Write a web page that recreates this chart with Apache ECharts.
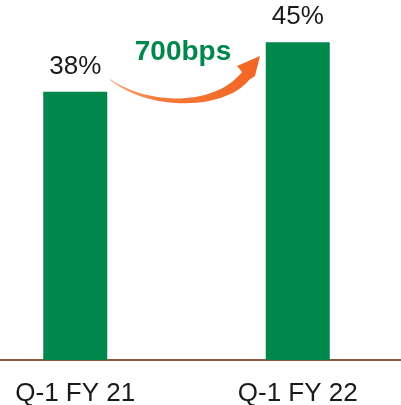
<!DOCTYPE html>
<html>
<head>
<meta charset="utf-8">
<script src="https://cdn.jsdelivr.net/npm/echarts@6/dist/echarts.min.js"></script>
<style>
  html, body { margin: 0; padding: 0; background: #fff; overflow: hidden; }
  /* 画布比窗口宽，左移让轴线贯穿全宽 */
  #chart { width: 445px; height: 405px; margin-left: -36px; }
</style>
</head>
<body>
<div id="chart"></div>
<script>
// 数据
const categories = ['Q-1 FY 21', 'Q-1 FY 22']
const margins = [38, 45]
const changeLabel = '700bps'

const chart = echarts.init(document.getElementById('chart'))

const font = '"Liberation Sans", Arial, sans-serif'

// 三次贝塞尔取点
function bezier(p0, p1, p2, p3, n) {
    const pts = []
    for (let i = 0; i <= n; i++) {
        const t = i / n
        const a = (1 - t) * (1 - t) * (1 - t)
        const b = 3 * (1 - t) * (1 - t) * t
        const c = 3 * (1 - t) * t * t
        const d = t * t * t
        pts.push([
            a * p0[0] + b * p1[0] + c * p2[0] + d * p3[0],
            a * p0[1] + b * p1[1] + c * p2[1] + d * p3[1]
        ])
    }
    return pts
}

// 箭头轮廓（窗口坐标）
const arrowPoints = [].concat(
    bezier([110, 79], [150, 106], [215, 106], [242, 72], 30),
    [[237, 66], [260, 56], [255, 76]],
    bezier([249, 80], [225, 110], [150, 112], [110, 80], 30)
)

const option = {
    animation: false,
    grid: {
        left: 0,
        right: 0,
        top: 7,
        bottom: 45,
        outerBoundsMode: 'none'
    },
    xAxis: {
        type: 'category',
        data: categories,
        axisLine: {
            show: true,
            lineStyle: {
                color: '#94553a',
                width: 2
            }
        },
        axisTick: { show: false },
        axisLabel: {
            margin: 21,
            color: '#1a1a1a',
            fontFamily: font,
            fontSize: 26
        }
    },
    yAxis: {
        type: 'value',
        min: 0,
        max: 50,
        show: false,
        splitLine: { show: false }
    },
    series: [
        {
            type: 'bar',
            data: margins,
            barWidth: 64,
            itemStyle: { color: '#00874c' },
            label: {
                show: true,
                position: 'top',
                distance: 12,
                formatter: '{c}%',
                color: '#1a1a1a',
                fontFamily: font,
                fontSize: 26
            }
        }
    ],
    // 箭头和变化值
    graphic: [
        {
            type: 'group',
            x: 36,
            y: 0,
            children: [
                {
                    type: 'polygon',
                    shape: { points: arrowPoints },
                    style: {
                        fill: {
                            type: 'linear',
                            x: 0, y: 0, x2: 1, y2: 0,
                            colorStops: [
                                { offset: 0, color: '#fbb08a' },
                                { offset: 0.3, color: '#f47c3c' },
                                { offset: 1, color: '#f26522' }
                            ]
                        }
                    }
                },
                {
                    type: 'text',
                    style: {
                        x: 183,
                        y: 52.5,
                        text: changeLabel,
                        align: 'center',
                        verticalAlign: 'middle',
                        fill: '#00874c',
                        font: 'bold 28px ' + font
                    }
                }
            ]
        }
    ]
}

chart.setOption(option)
</script>
</body>
</html>
